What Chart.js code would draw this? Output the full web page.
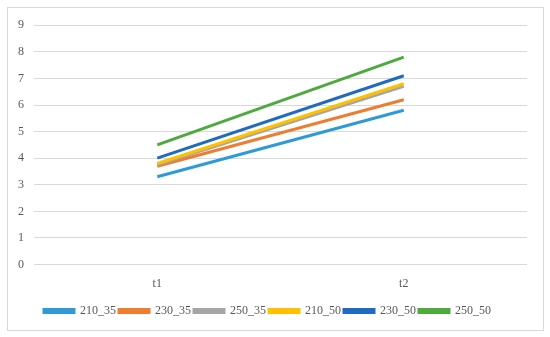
<!DOCTYPE html>
<html>
<head>
<meta charset="utf-8">
<script src="https://cdn.jsdelivr.net/npm/chart.js@4"></script>
<style>
html,body{margin:0;padding:0;background:#fff;}
#wrap{position:absolute;left:7px;top:7px;width:535px;height:322px;border:1px solid #d9d9d9;}
</style>
</head>
<body>
<div id="wrap"><canvas id="c"></canvas></div>
<script>
const categories = ["t1", "t2"];
const seriesNames = ["210_35", "230_35", "250_35", "210_50", "230_50", "250_50"];
const s210_35 = [3.3, 5.8];
const s230_35 = [3.7, 6.2];
const s250_35 = [3.75, 6.7];
const s210_50 = [3.8, 6.8];
const s230_50 = [4.0, 7.1];
const s250_50 = [4.5, 7.8];
const yTicks = [0, 1, 2, 3, 4, 5, 6, 7, 8, 9];
const colors = ["#2E9BD6", "#ED7D31", "#A5A5A5", "#FFC000", "#1F6BBF", "#4EAA3C"];

const seriesValues = [s210_35, s230_35, s250_35, s210_50, s230_50, s250_50];
const datasets = seriesNames.map((n, i) => ({
  label: n,
  data: seriesValues[i],
  borderColor: colors[i],
  backgroundColor: colors[i],
  borderWidth: 3,
  pointRadius: 0,
  pointHoverRadius: 0,
  fill: false,
  tension: 0,
  order: 6 - i
}));

Chart.defaults.font.family = "'Liberation Serif', 'Times New Roman', serif";
Chart.defaults.color = "#595959";

new Chart(document.getElementById('c'), {
  type: 'line',
  data: { labels: categories, datasets: datasets },
  options: {
    responsive: true,
    maintainAspectRatio: false,
    animation: false,
    layout: { padding: { top: 10, right: 16, left: 0, bottom: 3 } },
    plugins: {
      tooltip: { enabled: false },
      legend: {
        position: 'bottom',
        labels: {
          boxWidth: 30,
          boxHeight: 3,
          padding: 3,
          font: { size: 12 },
          color: "#595959",
          sort: (a, b) => a.datasetIndex - b.datasetIndex
        }
      }
    },
    scales: {
      x: {
        offset: true,
        grid: { display: false },
        border: { display: false },
        ticks: { font: { size: 12 }, padding: 4 },
        afterFit: (scale) => { scale.height += 7; }
      },
      y: {
        min: 0,
        max: 9,
        afterBuildTicks: (axis) => { axis.ticks = yTicks.map(v => ({ value: v })); },
        grid: { color: "#d9d9d9", drawTicks: false, lineWidth: 1 },
        border: { display: false },
        ticks: { font: { size: 12 }, padding: 10 }
      }
    }
  }
});
</script>
</body>
</html>
